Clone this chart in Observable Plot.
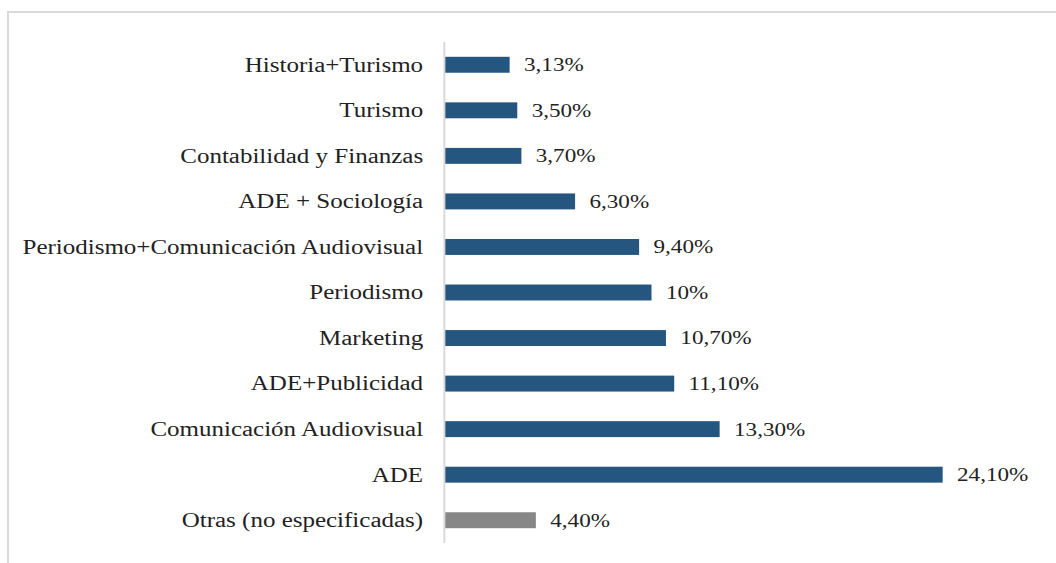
<!DOCTYPE html>
<html>
<head>
<meta charset="utf-8">
<script src="https://cdn.jsdelivr.net/npm/d3@7"></script>
<script src="https://cdn.jsdelivr.net/npm/@observablehq/plot@0.6"></script>
<style>
  html, body { margin: 0; padding: 0; background: #fff; overflow: hidden; width: 1056px; height: 563px; }
  #frame { position: absolute; left: 7px; top: 11px; width: 1200px; height: 700px;
           border-left: 2px solid #d9d9d9; border-top: 2px solid #d9d9d9; box-sizing: border-box; }
  #chart { position: absolute; left: 0; top: 0; }
  #chart svg { transform: scaleX(1.25); transform-origin: 0 0; display: block; }
</style>
</head>
<body>
<div id="frame"></div>
<div id="chart"></div>
<script>
const categories = [
  "Historia+Turismo",
  "Turismo",
  "Contabilidad y Finanzas",
  "ADE + Sociología",
  "Periodismo+Comunicación Audiovisual",
  "Periodismo",
  "Marketing",
  "ADE+Publicidad",
  "Comunicación Audiovisual",
  "ADE",
  "Otras (no especificadas)"
];
const values = [3.13, 3.5, 3.7, 6.3, 9.4, 10, 10.7, 11.1, 13.3, 24.1, 4.4];
const valueLabels = ["3,13%", "3,50%", "3,70%", "6,30%", "9,40%", "10%", "10,70%", "11,10%", "13,30%", "24,10%", "4,40%"];
const groups = ["main", "main", "main", "main", "main", "main", "main", "main", "main", "main", "other"];

const data = categories.map((c, i) => ({cat: c, value: values[i], label: valueLabels[i], group: groups[i]}));

const chart = Plot.plot({
  width: 845,
  height: 563,
  marginLeft: 356,
  marginRight: 76,
  marginTop: 42,
  marginBottom: 20,
  style: {fontFamily: "'Liberation Serif', 'Times New Roman', serif", color: "#222", background: "transparent"},
  x: {domain: [0, 25], axis: null},
  y: {domain: categories, paddingInner: 0.65, paddingOuter: 0.325, round: false, label: null, tickSize: 0, tickPadding: 18},
  color: {domain: ["main", "other"], range: ["#25567f", "#878787"]},
  marks: [
    Plot.barX(data, {x: "value", y: "cat", fill: "group"}),
    Plot.ruleX([0], {stroke: "#d9d9d9", strokeWidth: 1.6, dx: -1}),
    Plot.text(data, {x: "value", y: "cat", text: "label", textAnchor: "start", dx: 11, fontSize: 18.5, fill: "#222"}),
    Plot.axisY({tickSize: 0, tickPadding: 18, fontSize: 20, label: null, color: "#222"})
  ]
});
document.getElementById("chart").appendChild(chart);
</script>
</body>
</html>
